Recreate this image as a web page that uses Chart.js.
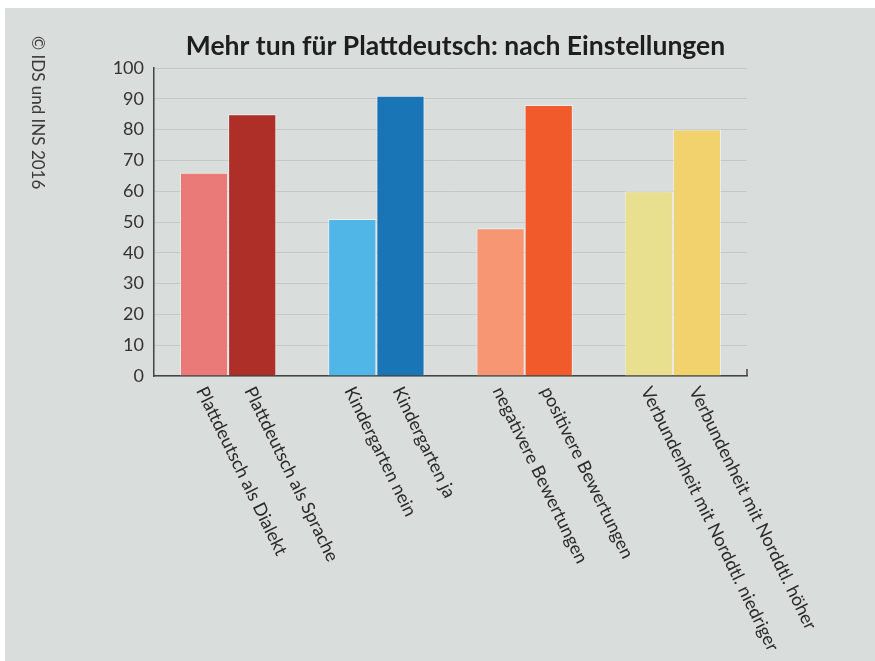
<!DOCTYPE html>
<html lang="de">
<head>
<meta charset="utf-8">
<title>Mehr tun für Plattdeutsch: nach Einstellungen</title>
<script src="https://cdn.jsdelivr.net/npm/chart.js@4"></script>
<style>
    html, body { margin: 0; padding: 0; background: #ffffff; }
    #panel {
        position: absolute; left: 5px; top: 8px; right: 0; bottom: 0;
        background: #d9dddc;
    }
    #chart { position: absolute; left: 0; top: 0; }
</style>
</head>
<body>
<div id="panel"></div>
<canvas id="chart" width="875" height="661"></canvas>
<script>
'use strict';

const chartTitle = 'Mehr tun für Plattdeutsch: nach Einstellungen';
const sourceNote = '© IDS und INS 2016';

// four attitude groups, each split into a lower and a higher answer
const groups = ['Plattdeutsch', 'Kindergarten', 'Bewertungen', 'Verbundenheit'];
const lowLabels = [
    'Plattdeutsch als Dialekt',
    'Kindergarten nein',
    'negativere Bewertungen',
    'Verbundenheit mit Norddtl. niedriger',
];
const highLabels = [
    'Plattdeutsch als Sprache',
    'Kindergarten ja',
    'positivere Bewertungen',
    'Verbundenheit mit Norddtl. höher',
];
const lowValues = [66, 51, 48, 60];
const highValues = [85, 91, 88, 80];
const lowColors = ['#e97a78', '#4fb6e7', '#f79672', '#e8e08e'];
const highColors = ['#ad2f28', '#1a75b7', '#f15a2b', '#f2d26d'];
const yTicks = [0, 10, 20, 30, 40, 50, 60, 70, 80, 90, 100];

const FONT = 'Lato, "Open Sans", sans-serif';

/**
 * Title, side note, rotated bar labels and the little end tick on the x axis.
 */
const decorations = {
    id: 'decorations',
    afterDraw(chart) {
        const ctx = chart.ctx;
        const area = chart.chartArea;

        ctx.save();
        ctx.fillStyle = '#1e1e1e';
        ctx.font = `bold 26.5px ${FONT}`;
        ctx.textAlign = 'center';
        ctx.textBaseline = 'middle';
        ctx.fillText(chartTitle, (area.left + area.right) / 2 + 5, 46);
        ctx.restore();

        ctx.save();
        ctx.translate(37, 36);
        ctx.rotate(Math.PI / 2);
        ctx.fillStyle = '#3a3a3a';
        ctx.font = `17px ${FONT}`;
        ctx.textAlign = 'left';
        ctx.textBaseline = 'middle';
        ctx.fillText(sourceNote, 0, 0);
        ctx.restore();

        const names = [lowLabels, highLabels];
        chart.data.datasets.forEach((ds, i) => {
            chart.getDatasetMeta(i).data.forEach((bar, j) => {
                ctx.save();
                ctx.translate(bar.x - 3, area.bottom + 12);
                ctx.rotate(64 * Math.PI / 180);
                ctx.fillStyle = '#2a2a2a';
                ctx.font = `18px ${FONT}`;
                ctx.textAlign = 'left';
                ctx.textBaseline = 'middle';
                ctx.fillText(names[i][j], 0, 0);
                ctx.restore();
            });
        });

        ctx.save();
        ctx.strokeStyle = '#444';
        ctx.lineWidth = 1.5;
        ctx.beginPath();
        ctx.moveTo(area.right, area.bottom);
        ctx.lineTo(area.right, area.bottom - 7);
        ctx.stroke();
        ctx.restore();
    },
};

new Chart(document.getElementById('chart'), {
    type: 'bar',
    data: {
        labels: groups,
        datasets: [
            {
                label: 'niedriger',
                data: lowValues,
                backgroundColor: lowColors,
                borderColor: 'rgba(255, 255, 255, 0.55)',
                borderWidth: 1,
            },
            {
                label: 'höher',
                data: highValues,
                backgroundColor: highColors,
                borderColor: 'rgba(255, 255, 255, 0.55)',
                borderWidth: 1,
            },
        ],
    },
    options: {
        responsive: false,
        animation: false,
        categoryPercentage: 0.65,
        barPercentage: 1,
        layout: {
            padding: { top: 68, right: 128, bottom: 277, left: 0 },
        },
        plugins: {
            legend: { display: false },
            tooltip: { enabled: false },
        },
        scales: {
            x: {
                ticks: { display: false },
                grid: { display: false },
                border: { color: '#444', width: 1.5 },
            },
            y: {
                min: 0,
                max: 100,
                afterBuildTicks: (scale) => {
                    scale.ticks = yTicks.map((v) => ({ value: v }));
                },
                afterFit: (scale) => {
                    scale.width = 154;
                },
                ticks: {
                    color: '#333',
                    padding: 10,
                    font: { family: FONT, size: 18 },
                },
                grid: {
                    color: '#c3c7c7',
                    lineWidth: 1,
                    drawTicks: false,
                },
                border: { color: '#444', width: 1.5 },
            },
        },
    },
    plugins: [decorations],
});
</script>
</body>
</html>
